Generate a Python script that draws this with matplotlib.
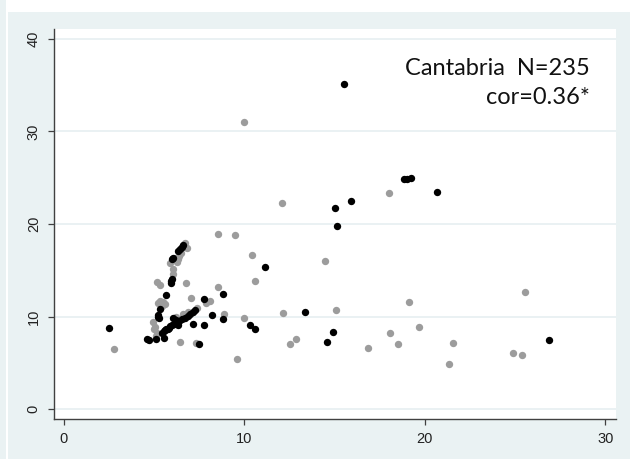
import matplotlib.pyplot as plt
from matplotlib.patches import Rectangle

# grey group
x_grey = [2.78, 4.95, 5.05, 5.10, 5.14, 5.00, 5.15, 5.30, 5.23, 5.35, 5.51, 5.60, 5.45,
          5.90, 6.06, 6.06, 6.15, 6.24, 6.30, 6.40, 6.51, 6.60, 6.71, 6.82, 6.75, 6.43,
          7.04, 7.30, 7.36, 6.60, 6.90, 6.20, 7.88, 8.10, 8.56, 8.52, 8.86, 9.48, 9.58,
          9.98, 9.97, 10.45, 10.57, 12.11, 12.16, 12.52, 12.85, 14.49, 15.07, 16.86,
          18.02, 18.06, 18.50, 19.13, 19.69, 21.34, 21.56, 24.88, 25.37, 25.57]
y_grey = [6.52, 9.44, 8.90, 7.90, 8.25, 8.60, 13.76, 13.40, 11.43, 11.70, 11.60, 11.35, 11.10,
          15.75, 15.10, 14.60, 16.30, 15.90, 16.20, 16.50, 16.90, 17.50, 17.98, 17.37, 13.60, 7.20,
          12.00, 7.17, 10.88, 10.30, 10.45, 9.90, 11.43, 11.70, 13.20, 18.90, 10.24, 18.80, 5.45,
          9.84, 31.06, 16.70, 13.84, 22.23, 10.38, 7.06, 7.57, 16.00, 10.70, 6.60,
          23.32, 8.18, 7.06, 11.60, 8.86, 4.83, 7.14, 6.09, 5.87, 12.61]

# black group
x_black = [2.48, 4.62, 4.70, 5.10, 5.56, 7.47, 7.17, 7.76, 7.76, 8.23, 8.84, 8.82,
           10.33, 10.60, 11.15, 13.37, 14.56, 14.89, 15.03, 15.12, 15.54, 15.90,
           18.84, 19.00, 19.22, 20.67, 26.89,
           5.22, 5.27, 5.23, 5.32, 5.66, 5.93, 5.96, 6.00, 6.00, 6.05, 6.35, 6.43, 6.53, 6.60,
           5.42, 5.55, 5.60, 5.68, 5.75, 5.80, 5.90, 6.00, 6.10, 6.20, 6.25, 6.40, 6.55,
           6.70, 6.85, 7.00, 7.15, 7.27, 6.06, 6.25, 6.30, 6.20]
y_black = [8.80, 7.52, 7.47, 7.52, 7.64, 6.99, 9.15, 9.10, 11.93, 10.15, 9.72, 12.42,
           9.06, 8.67, 15.33, 10.52, 7.28, 8.36, 21.77, 19.75, 35.10, 22.52,
           24.86, 24.86, 25.00, 23.42, 7.46,
           10.00, 9.80, 10.16, 10.78, 12.30, 13.60, 13.85, 14.10, 16.20, 16.30, 17.10, 17.26, 17.55, 17.70,
           8.25, 8.45, 8.55, 8.60, 8.70, 8.80, 8.95, 9.10, 9.20, 9.30, 9.35, 9.50, 9.70,
           9.85, 10.05, 10.25, 10.50, 10.75, 9.80, 9.26, 9.05, 9.60]

x_ticks = [0, 10, 20, 30]
y_ticks = [0, 10, 20, 30, 40]

bg = '#eaf2f3'
fig = plt.figure(figsize=(6.3, 4.59), dpi=100, facecolor='white')
fig.patches.append(Rectangle((8 / 630, 0), 1, 1 - 12 / 459, transform=fig.transFigure,
                             facecolor=bg, edgecolor='none', zorder=-10))
fig.patches.append(Rectangle((0, 0), 6 / 630, 1, transform=fig.transFigure,
                             facecolor=bg, edgecolor='none', zorder=-10))

ax = fig.add_axes([54 / 630, 40 / 459, 562 / 630, 390 / 459])
ax.set_facecolor('white')

for y in y_ticks:
    ax.axhline(y, color='#e6eff1', lw=1.2, zorder=1)

ax.plot(x_grey, y_grey, 'o', color='#9c9c9c', ms=5.3, mew=0, zorder=3)
ax.plot(x_black, y_black, 'o', color='black', ms=5.3, mew=0, zorder=4)

ax.set_xlim(-0.55, 30.6)
ax.set_ylim(-1.08, 41.08)
ax.set_xticks(x_ticks)
ax.set_yticks(y_ticks)

for s in ['top', 'right']:
    ax.spines[s].set_visible(False)
for s in ['left', 'bottom']:
    ax.spines[s].set_color('#404040')
    ax.spines[s].set_linewidth(1.0)

ax.tick_params(direction='out', length=4.5, width=0.9, color='#404040', pad=5,
               labelsize=10.5, labelcolor='#222222')
for lab in ax.get_xticklabels() + ax.get_yticklabels():
    lab.set_family('Liberation Sans')
plt.setp(ax.get_yticklabels(), rotation=90, va='center')

# two-line annotation, anchored at the baseline of its last line
ax.text(0.954, 0.807, 'Cantabria  N=235\ncor=0.36*', transform=ax.transAxes,
        ha='right', va='baseline', multialignment='right', fontsize=17,
        family='Lato', linespacing=1.5, color='#111111')

fig.savefig('out.png', dpi=100, facecolor=fig.get_facecolor())
